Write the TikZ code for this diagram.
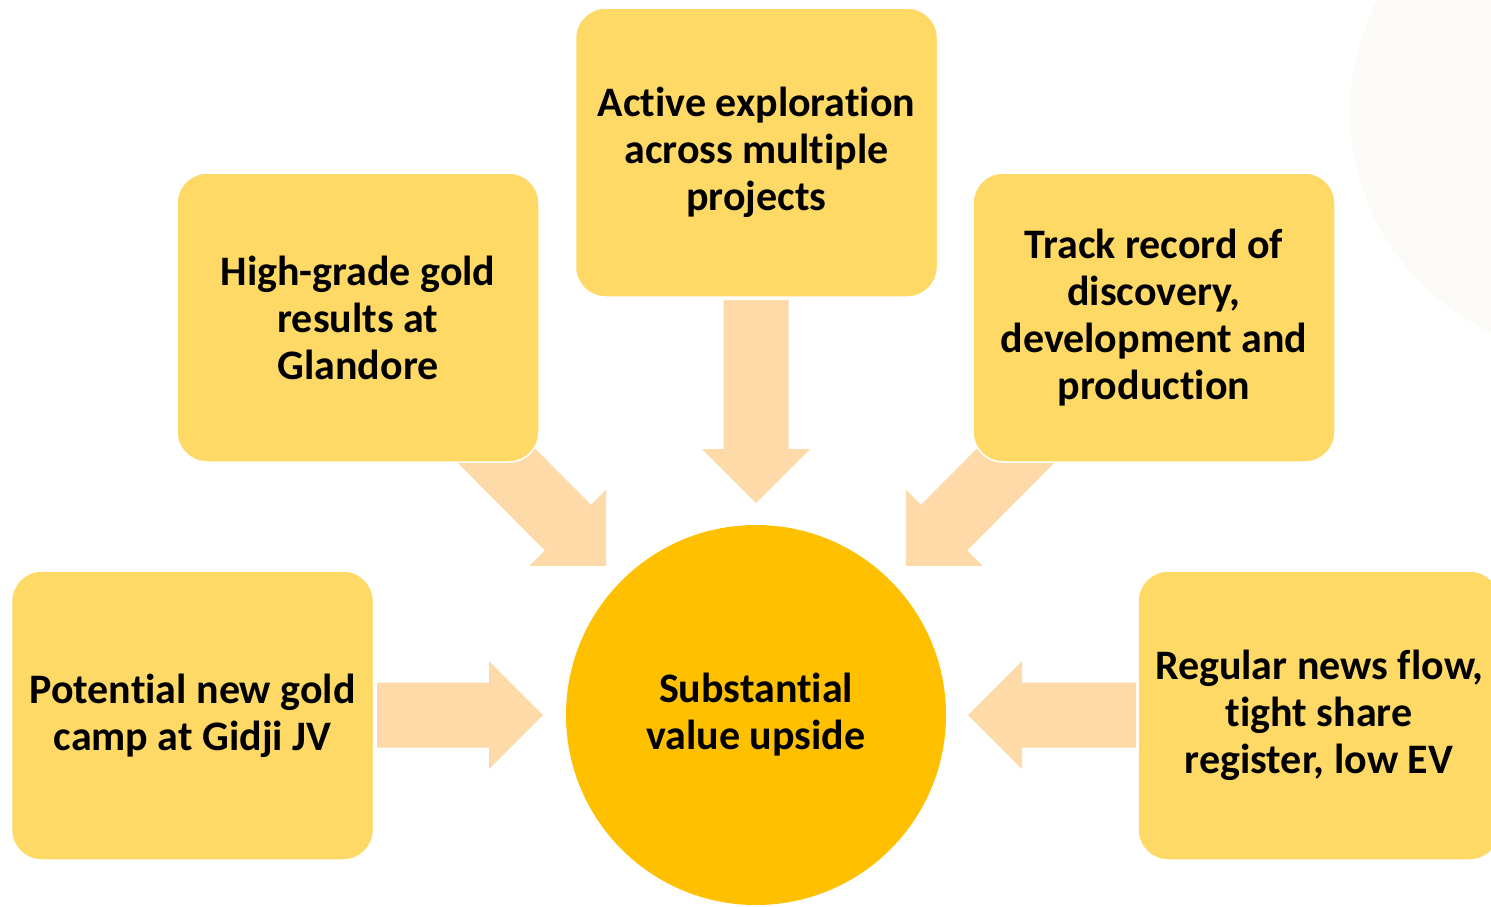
\documentclass[tikz,border=0pt]{standalone}
\usepackage{fontspec}
\setmainfont{Carlito}[Ligatures=NoCommon]
\usetikzlibrary{calc}

\definecolor{boxgold}{HTML}{FFD966}
\definecolor{hubgold}{HTML}{FFC000}
\definecolor{arrowpeach}{HTML}{FEDAA8}
\definecolor{haze}{HTML}{FBFAF7}

% block arrow from #1 (back end, centre of shaft) to #2 (tip)
\newcommand{\blockarrow}[2]{%
  \coordinate (ba-s) at #1;
  \coordinate (ba-t) at #2;
  \coordinate (ba-h) at ($(ba-t)!54pt!(ba-s)$);
  \fill[arrowpeach]
    ($(ba-s)!32.5pt!90:(ba-t)$) --
    ($(ba-h)!32.5pt!-90:(ba-s)$) --
    ($(ba-h)!54pt!-90:(ba-s)$) --
    (ba-t) --
    ($(ba-h)!54pt!90:(ba-s)$) --
    ($(ba-h)!32.5pt!90:(ba-s)$) --
    ($(ba-s)!32.5pt!-90:(ba-t)$) -- cycle;
}

\tikzset{
  txt/.style={font=\fontsize{42}{47}\selectfont\bfseries, align=center, text=black},
  ideabox/.style={txt, rectangle, rounded corners=30pt, fill=boxgold,
    draw=white, line width=1.5pt, minimum width=362pt, minimum height=289pt,
    inner sep=0pt},
  hubnode/.style={txt, circle, fill=hubgold, minimum size=380pt, inner sep=0pt},
}

\begin{document}
\begin{tikzpicture}[x=1pt,y=-1pt]
  \useasboundingbox (0,0) rectangle (1491,906);
  \clip (0,0) rectangle (1491,906);

  % soft background disc at the top right
  \fill[haze] (1592,112) circle (242);

  % named anchors for the arrows
  \coordinate (c) at (756,715);
  \coordinate (topS) at (756,300);
  \coordinate (topT) at (756,503);
  \coordinate (tlS) at (456,415);
  \coordinate (tlT) at (606,566);
  \coordinate (trS) at (1056,415);
  \coordinate (trT) at (906,566);
  \coordinate (lS) at (377,715);
  \coordinate (lT) at (543,715);
  \coordinate (rS) at (1136,715);
  \coordinate (rT) at (968,715);

  % arrows pointing to the hub
  \blockarrow{(topS)}{(topT)}
  \blockarrow{(tlS)}{(tlT)}
  \blockarrow{(trS)}{(trT)}
  \blockarrow{(lS)}{(lT)}
  \blockarrow{(rS)}{(rT)}

  % the five drivers
  \node[ideabox] (top) at (756.5,152.5) {Active exploration\\across multiple\\projects};
  \node[ideabox] (tl) at (358,317.5) {High-grade gold\\results at\\Glandore};
  \node[ideabox] (tr) at (1154,317.5) {Track record of\\discovery,\\development and\\production};
  \node[ideabox] (left) at (192.5,715.5) {Potential new gold\\camp at Gidji JV};
  \node[ideabox] (right) at (1319,715.5) {Regular news flow,\\tight share\\register, low EV};

  % hub
  \node[hubnode] (hub) at (c) {Substantial\\value upside};
\end{tikzpicture}
\end{document}
